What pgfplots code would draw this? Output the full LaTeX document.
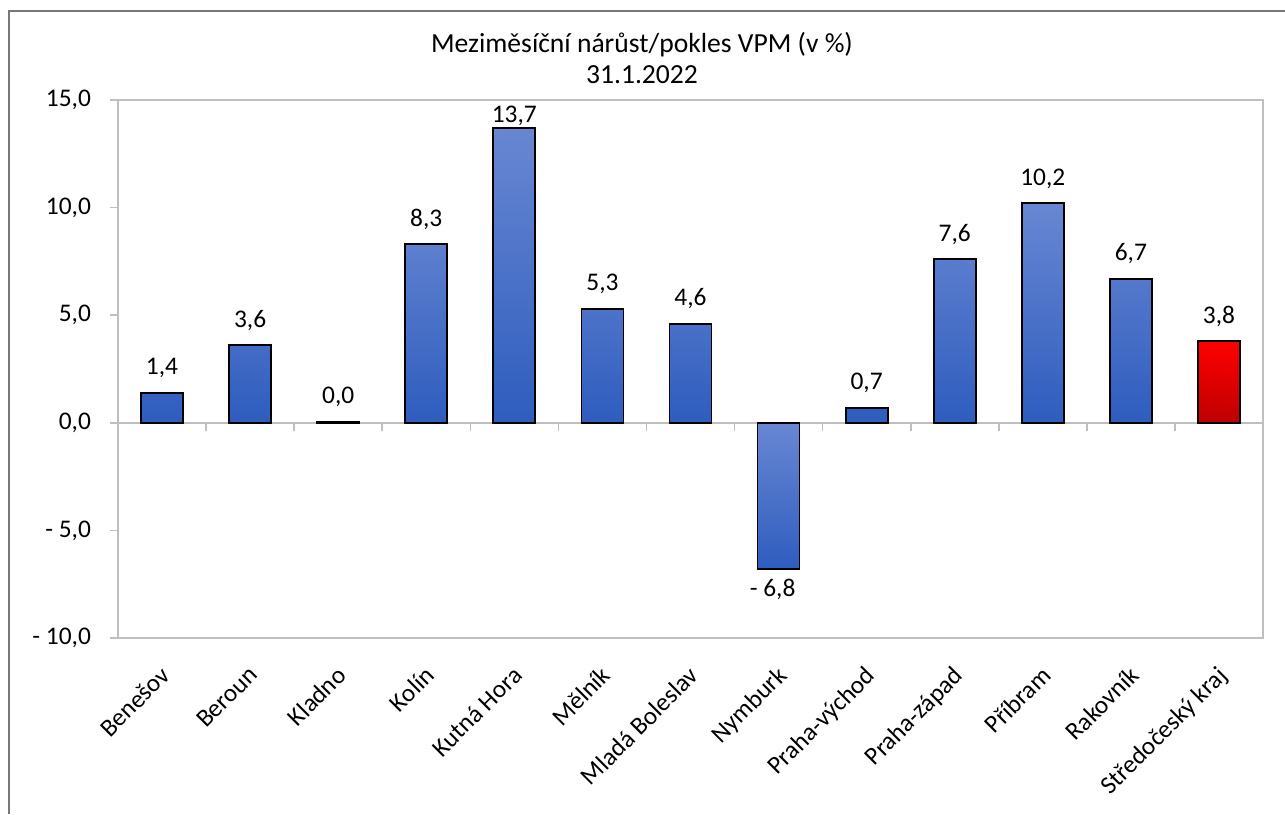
\documentclass[border=0pt]{standalone}
\usepackage{pgfplots}
\pgfplotsset{compat=1.18}
\usepackage{fontspec}
\setmainfont{Carlito}
\definecolor{btop}{RGB}{104,135,210}
\definecolor{bbot}{RGB}{46,93,190}
\definecolor{rtop}{RGB}{255,0,0}
\definecolor{rmid}{RGB}{255,65,0}
\definecolor{rbot}{RGB}{190,0,0}
\definecolor{axgray}{RGB}{191,191,191}
\definecolor{framegray}{RGB}{120,120,120}
\newcommand{\nfont}{\fontsize{12.7}{15}\selectfont}
\newcommand{\lfont}{\fontsize{12.6}{15}\selectfont}
\begin{document}
\begin{tikzpicture}
\path[use as bounding box] (0pt,0pt) rectangle (642.5pt,407pt);
\draw[framegray, line width=0.7pt] (4.5pt,0pt) -- (4.5pt,401.5pt) -- (642.5pt,401.5pt);
\node[font=\fontsize{13.8}{16}\selectfont] at (321pt,384.5pt) {Meziměsíční nárůst/pokles VPM (v \%)};
\node[font=\fontsize{13.8}{16}\selectfont] at (321pt,369.5pt) {31.1.2022};
\begin{axis}[
  at={(59pt,88pt)}, anchor=south west, scale only axis,
  width=572.5pt, height=269pt,
  xmin=-0.5, xmax=12.5, ymin=-10, ymax=15,
  axis line style={axgray, line width=0.8pt},
  ytick={-10,-5,0,5,10,15},
  yticklabels={{- 10,0},{- 5,0},{0,0},{5,0},{10,0},{15,0}},
  ytick pos=left, tick align=outside, major tick length=4pt,
  ytick style={axgray, line width=0.8pt},
  xtick={0,...,12},
  xticklabels={Benešov,Beroun,Kladno,Kolín,Kutná Hora,Mělník,Mladá Boleslav,Nymburk,Praha-východ,Praha-západ,Příbram,Rakovník,Středočeský kraj},
  xtick style={draw=none},
  yticklabel style={font=\nfont, text=black, xshift=-6pt},
  xticklabel style={font=\lfont, text=black, rotate=45, anchor=north east, inner sep=0pt, xshift=-7.5pt, yshift=-5.5pt},
  ybar, bar width=21pt, bar shift=0pt,
  nodes near coords, point meta=explicit symbolic,
  every node near coord/.append style={font=\nfont, text=black, anchor=base, yshift=9pt},
  clip=false,
]
\draw[axgray, line width=0.8pt] (axis cs:-0.5,0) -- (axis cs:12.5,0);
\pgfplotsinvokeforeach{0.5,1.5,2.5,3.5,4.5,5.5,6.5,7.5,8.5,9.5,10.5,11.5}{
  \draw[axgray, line width=0.8pt] (axis cs:#1,0) -- ++(0pt,-4pt);
}
\addplot[draw=black, line width=0.9pt, top color=btop, bottom color=bbot]
  coordinates {
  (0,1.4) [1,4]
  (1,3.6) [3,6]
  (2,0.04) [0,0]
  (3,8.3) [8,3]
  (5,5.3) [5,3]
  (6,4.6) [4,6]
  (8,0.7) [0,7]
  (9,7.6) [7,6]
  (10,10.2) [10,2]
  (11,6.7) [6,7]
};
\addplot[draw=black, line width=0.9pt, top color=btop, bottom color=bbot,
  every node near coord/.append style={anchor=base, yshift=-6.5pt}]
  coordinates {
  (4,13.7) [13,7]
};
\addplot[draw=black, line width=0.9pt, top color=btop, bottom color=bbot,
  every node near coord/.append style={anchor=base, yshift=-22.5pt, xshift=-3pt}]
  coordinates {
  (7,-6.8) [- 6,8]
};
\addplot[draw=black, line width=0.9pt, top color=rtop, middle color=rmid, bottom color=rbot]
  coordinates {
  (12,3.8) [3,8]
};
\end{axis}
\end{tikzpicture}
\end{document}
